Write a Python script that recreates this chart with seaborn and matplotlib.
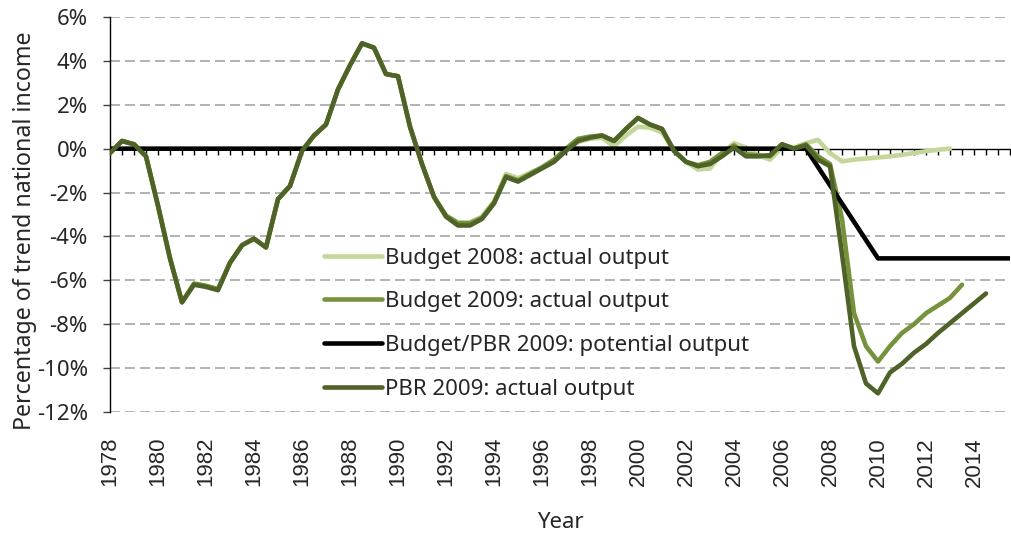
import matplotlib
matplotlib.use("Agg")
import matplotlib.pyplot as plt
import seaborn as sns
import numpy as np

# half-year observations, 1978.0 onwards
pbr2009 = [-0.2, 0.35, 0.2, -0.35, -2.6, -5.0, -7.0, -6.2, -6.3, -6.45,
           -5.2, -4.4, -4.1, -4.5, -2.3, -1.7, -0.1, 0.6, 1.1, 2.7,
           3.8, 4.8, 4.6, 3.4, 3.3, 1.0, -0.7, -2.2, -3.1, -3.5,
           -3.5, -3.2, -2.5, -1.3, -1.5, -1.2, -0.9, -0.6, -0.1, 0.35,
           0.5, 0.6, 0.35, 0.9, 1.4, 1.1, 0.9, -0.1, -0.6, -0.8,
           -0.7, -0.35, 0.05, -0.35, -0.35, -0.3, 0.2, 0.0, 0.15, -0.5,
           -0.8, -4.8, -9.0, -10.7, -11.15, -10.2, -9.8, -9.3, -8.9, -8.4,
           -7.95, -7.5, -7.05, -6.6]

budget2009 = [-0.2, 0.35, 0.2, -0.35, -2.6, -5.0, -7.0, -6.15, -6.25, -6.4,
              -5.2, -4.4, -4.1, -4.5, -2.3, -1.7, -0.1, 0.6, 1.1, 2.7,
              3.8, 4.8, 4.6, 3.4, 3.3, 1.0, -0.7, -2.2, -3.05, -3.4,
              -3.4, -3.15, -2.45, -1.25, -1.45, -1.15, -0.85, -0.5, 0.0, 0.45,
              0.55, 0.6, 0.35, 0.9, 1.4, 1.1, 0.9, -0.1, -0.6, -0.75,
              -0.6, -0.2, 0.15, -0.25, -0.3, -0.35, 0.2, 0.0, 0.2, -0.35,
              -0.7, -3.2, -7.5, -9.0, -9.7, -9.0, -8.4, -8.0, -7.5, -7.15,
              -6.8, -6.2]

budget2008 = [-0.2, 0.35, 0.2, -0.35, -2.6, -5.0, -7.0, -6.15, -6.25, -6.4,
              -5.2, -4.4, -4.1, -4.5, -2.3, -1.7, -0.1, 0.6, 1.1, 2.7,
              3.8, 4.8, 4.6, 3.4, 3.3, 1.0, -0.7, -2.2, -3.05, -3.35,
              -3.35, -3.1, -2.4, -1.15, -1.35, -1.1, -0.85, -0.55, -0.05, 0.3,
              0.45, 0.5, 0.1, 0.6, 1.0, 0.95, 0.75, -0.1, -0.6, -0.95,
              -0.9, -0.2, 0.25, 0.05, -0.3, -0.5, 0.05, 0.05, 0.25, 0.4,
              -0.2, -0.58, -0.5, -0.45, -0.4, -0.35, -0.28, -0.2, -0.12, -0.05,
              0.0]

# potential output: flat, then falls to -5% by 2010
potential_years = [1978, 2007, 2010, 2015.5]
potential = [0, 0, -5, -5]

half_years = np.arange(1978, 2016, 0.5)
yticks = list(range(-12, 7, 2))
xticks = list(range(1978, 2015, 2))

light = "#c4d79b"
medium = "#76923c"
dark = "#4f6228"

sns.set_theme(style="white")
plt.rcParams["font.family"] = ["Noto Sans", "DejaVu Sans"]

fig = plt.figure(figsize=(10.11, 5.36), dpi=100)
ax = fig.add_axes([110 / 1011, 124 / 536, 900 / 1011, 395 / 536])

# dashed gridlines (the 0% line is the axis itself)
for v in yticks:
    if v != 0:
        ax.axhline(v, color="#a6a6a6", lw=1.2, dashes=(6, 3), zorder=1)

lw = 3.3
sns.lineplot(x=half_years[:len(budget2008)], y=budget2008, color=light, lw=lw,
             label="Budget 2008: actual output", ax=ax, zorder=3)
sns.lineplot(x=half_years[:len(budget2009)], y=budget2009, color=medium, lw=lw,
             label="Budget 2009: actual output", ax=ax, zorder=3)
sns.lineplot(x=potential_years, y=potential, color="black", lw=lw,
             label="Budget/PBR 2009: potential output", ax=ax, zorder=3)
sns.lineplot(x=half_years[:len(pbr2009)], y=pbr2009, color=dark, lw=lw,
             label="PBR 2009: actual output", ax=ax, zorder=3)

ax.set_xlim(1978, 2015.5)
ax.set_ylim(-12, 6)

ax.set_yticks(yticks)
ax.set_yticklabels([f"{v}%" for v in yticks], fontsize=16)
ax.tick_params(axis="y", left=True, direction="out", length=5, width=1,
               color="#404040", pad=11)

ax.set_xticks(xticks)
ax.set_xticklabels([str(v) for v in xticks], rotation=90, fontsize=16,
                   family="Liberation Sans")
ax.tick_params(axis="x", bottom=True, length=0, pad=18)

for s in ["top", "right", "bottom"]:
    ax.spines[s].set_visible(False)
ax.spines["left"].set_color("black")
ax.spines["left"].set_linewidth(1)

# zero line carrying the half-year tick marks
zero_axis = ax.secondary_xaxis(12 / 18)
zero_axis.set_alignment("bottom")
zero_axis.set_xticks(half_years)
zero_axis.set_xticklabels([])
zero_axis.tick_params(axis="x", direction="out", length=4, width=1, color="black")
zero_axis.spines["bottom"].set_color("black")
zero_axis.spines["bottom"].set_linewidth(1)

ax.set_ylabel("Percentage of trend national income", fontsize=16.7)
ax.yaxis.set_label_coords(-0.0815, 0.458)
ax.set_xlabel("Year", fontsize=16, labelpad=18)

ax.legend(loc="center left", bbox_to_anchor=(0.238, 0.224), frameon=False,
          fontsize=16, handlelength=2.6, handletextpad=0.15, labelspacing=1.02,
          borderpad=0, borderaxespad=0)

fig.savefig("out.png", dpi=100)
